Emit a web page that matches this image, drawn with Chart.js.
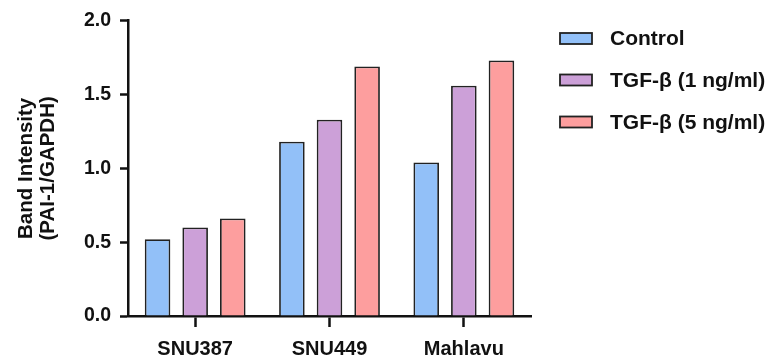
<!DOCTYPE html>
<html>
<head>
<meta charset="utf-8">
<script src="https://cdn.jsdelivr.net/npm/chart.js@4/dist/chart.umd.min.js"></script>
<style>
  html, body { margin: 0; padding: 0; background: #ffffff; }
  #wrap { position: relative; width: 769px; height: 364px; }
</style>
</head>
<body>
<div id="wrap"><canvas id="chart"></canvas></div>
<script>
// Cell lines on the x axis
const cellLines = ['SNU387', 'SNU449', 'Mahlavu'];

// Band intensity (PAI-1 / GAPDH) per treatment
const controlValues = [0.52, 1.18, 1.04];
const tgf1Values = [0.60, 1.33, 1.56];
const tgf5Values = [0.66, 1.69, 1.73];

// Series names
const seriesNames = ['Control', 'TGF-\u03B2 (1 ng/ml)', 'TGF-\u03B2 (5 ng/ml)'];

// Y axis ticks
const yTicks = [0, 0.5, 1.0, 1.5, 2.0];

const FONT = '"Liberation Sans", Arial, Helvetica, sans-serif';
const INK = '#111111';
const fills = ['#92C0F8', '#CCA0D8', '#FD9E9E'];
const edge = '#222222';

// Legend drawn in the right-hand margin, one row per dataset
const sideLegend = {
  id: 'sideLegend',
  afterDraw(chart) {
    const ctx = chart.ctx;
    const boxX = 560, boxW = 32, boxH = 11, textX = 610;
    const rowY = [38.5, 80, 122];
    ctx.save();
    ctx.font = 'bold 21px ' + FONT;
    ctx.textBaseline = 'middle';
    ctx.textAlign = 'left';
    chart.data.datasets.forEach((ds, i) => {
      const y = rowY[i];
      ctx.fillStyle = ds.backgroundColor;
      ctx.fillRect(boxX, y - boxH / 2, boxW, boxH);
      ctx.lineWidth = 1.8;
      ctx.strokeStyle = edge;
      ctx.strokeRect(boxX, y - boxH / 2, boxW, boxH);
      ctx.fillStyle = INK;
      ctx.fillText(ds.label, textX, y + 1);
    });
    ctx.restore();
  }
};

const mkSet = (label, data, i) => ({
  label,
  data,
  backgroundColor: fills[i],
  borderColor: edge,
  borderWidth: 1.8,
  borderSkipped: 'bottom',
  categoryPercentage: 0.84,
  barPercentage: 0.68
});

new Chart(document.getElementById('chart'), {
  type: 'bar',
  data: {
    labels: cellLines,
    datasets: [
      mkSet(seriesNames[0], controlValues, 0),
      mkSet(seriesNames[1], tgf1Values, 1),
      mkSet(seriesNames[2], tgf5Values, 2)
    ]
  },
  options: {
    responsive: true,
    maintainAspectRatio: false,
    animation: false,
    layout: { padding: { top: 20, right: 238, left: 0, bottom: 0 } },
    plugins: {
      legend: { display: false },
      tooltip: { enabled: false }
    },
    scales: {
      x: {
        offset: true,
        afterFit(scale) { scale.height = 48; },
        grid: {
          display: true,
          offset: false,
          drawOnChartArea: false,
          drawTicks: true,
          tickLength: 11,
          tickWidth: 2.5,
          color: INK
        },
        border: { display: true, color: INK, width: 2.5 },
        ticks: {
          color: INK,
          padding: 10,
          font: { family: FONT, size: 20, weight: 'bold' }
        }
      },
      y: {
        min: 0,
        max: 2,
        afterFit(scale) { scale.width = 128; },
        afterBuildTicks(scale) { scale.ticks = yTicks.map(v => ({ value: v })); },
        grid: {
          display: true,
          drawOnChartArea: false,
          drawTicks: true,
          tickLength: 8,
          tickWidth: 2.5,
          color: INK
        },
        border: { display: true, color: INK, width: 2.5 },
        ticks: {
          color: INK,
          padding: 9,
          callback: v => Number(v).toFixed(1),
          font: { family: FONT, size: 19.5, weight: 'bold' }
        },
        title: {
          display: true,
          text: ['Band Intensity', '(PAI-1/GAPDH)'],
          color: INK,
          padding: { top: 15, bottom: 0 },
          font: { family: FONT, size: 20.5, weight: 'bold', lineHeight: 1.1 }
        }
      }
    }
  },
  plugins: [sideLegend]
});
</script>
</body>
</html>
